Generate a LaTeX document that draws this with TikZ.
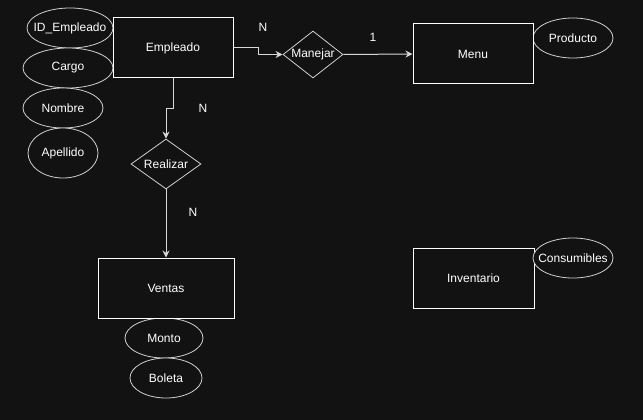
\documentclass[tikz,border=0pt]{standalone}
\usepackage{fontspec}
\setmainfont{Liberation Sans}
\usetikzlibrary{shapes.geometric,arrows.meta}
\definecolor{bg}{HTML}{121212}
\definecolor{ell}{HTML}{D0D0D0}
\definecolor{conn}{HTML}{D8D8D8}
\newcommand{\zw}[1]{\makebox[0pt]{#1}}
\begin{document}
\begin{tikzpicture}[x=1pt,y=-1pt,
  every node/.style={font=\fontsize{12}{14}\selectfont, text=white, inner sep=0pt},
  entity/.style={draw=white, line width=1pt, minimum width=120pt, minimum height=60pt, fill=bg},
  attr/.style={draw=ell, ellipse, line width=0.8pt, fill=bg},
  rel/.style={draw=ell, diamond, line width=0.8pt, fill=bg},
  conn/.style={draw=conn, line width=1pt, -{Stealth[length=7pt,width=7pt]}},
  card/.style={text=white}]
\fill[bg] (0,0) rectangle (643,420);
\useasboundingbox (0,0) rectangle (643,420);
% attributes
\node[attr, minimum width=86pt, minimum height=40pt] (idemp) at (70,28) {\zw{ID\_Empleado}};
\node[attr, minimum width=90pt, minimum height=40pt] (cargo) at (68,68) {\zw{Cargo}};
\node[attr, minimum width=80pt, minimum height=40pt] (nombre) at (63,108) {\zw{Nombre}};
\node[attr, minimum width=70pt, minimum height=50pt] (apellido) at (63,153) {\zw{Apellido}};
\node[attr, minimum width=80pt, minimum height=40pt] (producto) at (573,38) {\zw{Producto}};
\node[attr, minimum width=78pt, minimum height=40pt] (monto) at (164,338) {\zw{Monto}};
\node[attr, minimum width=72pt, minimum height=40pt] (boleta) at (166,378) {\zw{Boleta}};
% entities
\node[entity, minimum width=120pt] (emp) at (173,48) {Empleado};
\node[entity, minimum width=120pt] (menu) at (473,54) {Menu};
\node[entity, minimum width=136pt] (ventas) at (166,288) {Ventas};
\node[entity, minimum width=121pt] (inv) at (473.5,278) {Inventario};
\node[attr, minimum width=80pt, minimum height=40pt] (consum) at (573,258) {\zw{Consumibles}};
% relationships
\node[rel, minimum width=60pt, minimum height=47pt, aspect=1.3] (manejar) at (313,54.5) {Manejar};
\node[rel, minimum width=70pt, minimum height=50pt, aspect=1.4] (realizar) at (166,164) {Realizar};
% connectors
\coordinate (e1) at (258,48);
\coordinate (e2) at (258,54.5);
\draw[conn] (emp.east) -- (e1) -- (e2) -- (manejar.west);
\draw[conn] (manejar.east) -- (menu.west);
\coordinate (r1) at (173,108);
\coordinate (r2) at (166,108);
\draw[conn] (emp.south) -- (r1) -- (r2) -- (realizar.north);
\draw[conn] (realizar.south) -- (ventas.north);
% cardinalities
\node[card] (n1) at (263,27) {N};
\node[card] (one) at (373,37) {1};
\node[card] (n2) at (203,108) {N};
\node[card] (n3) at (193,212) {N};
\end{tikzpicture}
\end{document}
